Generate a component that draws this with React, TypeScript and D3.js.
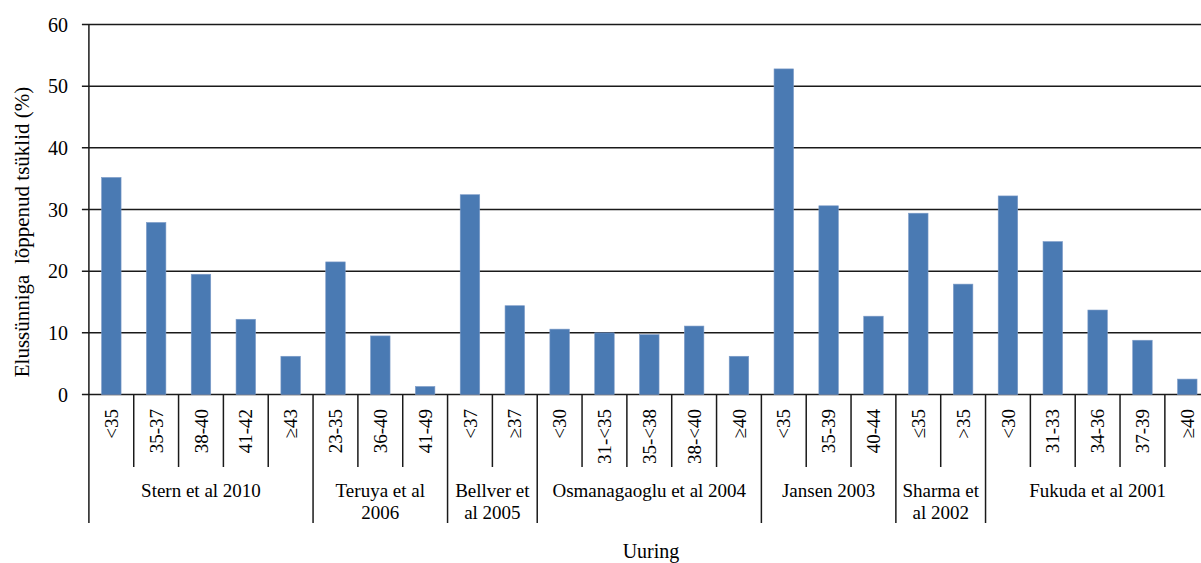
import React from "react";
import * as d3 from "d3";

const categories = [
  "<35", "35-37", "38-40", "41-42", "≥43",
  "23-35", "36-40", "41-49",
  "<37", "≥37",
  "<30", "31-<35", "35-<38", "38-<40", "≥40",
  "<35", "35-39", "40-44",
  "≤35", ">35",
  "<30", "31-33", "34-36", "37-39", "≥40",
];

const values = [
  35.2, 27.9, 19.5, 12.2, 6.2,
  21.5, 9.5, 1.3,
  32.4, 14.4,
  10.6, 10.0, 9.7, 11.1, 6.2,
  52.8, 30.6, 12.7,
  29.4, 17.9,
  32.2, 24.8, 13.7, 8.8, 2.5,
];

const groupNames = [
  ["Stern et al 2010"],
  ["Teruya et al", "2006"],
  ["Bellver et", "al 2005"],
  ["Osmanagaoglu et al 2004"],
  ["Jansen 2003"],
  ["Sharma et", "al 2002"],
  ["Fukuda et al 2001"],
];
const groupSizes = [5, 3, 2, 5, 3, 2, 5];

const yTicks = [0, 10, 20, 30, 40, 50, 60];
const yTitle = "Elussünniga  lõppenud tsüklid (%)";
const xTitle = "Uuring";

const W = 1201;
const H = 563;
const FONT = "'Liberation Serif', 'Times New Roman', serif";

export default function App() {
  const left = 88.9;
  const right = 1209.7;
  const y0 = 394.5;
  const yTop = 24.5;

  const idx = categories.map((_, i) => i);
  const x = d3
    .scaleBand<number>()
    .domain(idx)
    .range([left, right])
    .paddingInner(0.565)
    .paddingOuter(0.2825);
  const step = x.step();
  const y = d3.scaleLinear().domain([0, 60]).range([y0, yTop]);

  const innerSepBottom = 467;
  const groupSepBottom = 523;

  const groupStarts: number[] = [];
  let acc = 0;
  groupSizes.forEach((s) => {
    groupStarts.push(acc);
    acc += s;
  });
  const groupBoundarySet = new Set<number>([...groupStarts, acc]);

  const boundaryX = (k: number) => left + step * k;

  return (
    <div style={{ position: "fixed", left: 0, top: 0 }}>
      <svg width={W} height={H} style={{ display: "block", background: "#fff" }}>
        {yTicks.map((t) => (
          <line
            key={"g" + t}
            x1={left - 7}
            x2={W}
            y1={y(t)}
            y2={y(t)}
            stroke="#1a1a1a"
            strokeWidth={1.5}
          />
        ))}
        {values.map((v, i) => (
          <rect
            key={"b" + i}
            x={x(i)}
            y={y(v)}
            width={x.bandwidth()}
            height={y0 - y(v)}
            fill="#4a7ab3"
            stroke="#7e9cc8"
            strokeWidth={0.6}
          />
        ))}
        <line x1={left} x2={left} y1={yTop} y2={groupSepBottom} stroke="#1a1a1a" strokeWidth={1.5} />
        {d3.range(1, categories.length + 1).map((k) => (
          <line
            key={"s" + k}
            x1={boundaryX(k)}
            x2={boundaryX(k)}
            y1={y0}
            y2={groupBoundarySet.has(k) ? groupSepBottom : innerSepBottom}
            stroke="#1a1a1a"
            strokeWidth={1.5}
          />
        ))}
        {yTicks.map((t) => (
          <text
            key={"yl" + t}
            x={68}
            y={y(t)}
            dy="0.35em"
            textAnchor="end"
            fontFamily={FONT}
            fontSize={20}
            fill="#000"
          >
            {t}
          </text>
        ))}
        {categories.map((c, i) => {
          const cx = (x(i) ?? 0) + x.bandwidth() / 2;
          return (
            <text
              key={"c" + i}
              transform={`translate(${cx},409) rotate(-90)`}
              dy="0.35em"
              textAnchor="end"
              fontFamily={FONT}
              fontSize={19}
              fill="#000"
            >
              {c}
            </text>
          );
        })}
        {groupNames.map((lines, gi) => {
          const s = groupStarts[gi];
          const e = s + groupSizes[gi];
          const cx = (boundaryX(s) + boundaryX(e)) / 2;
          return (
            <text
              key={"gl" + gi}
              x={cx}
              y={497}
              textAnchor="middle"
              fontFamily={FONT}
              fontSize={19}
              fill="#000"
            >
              {lines.map((l, li) => (
                <tspan key={li} x={cx} dy={li === 0 ? 0 : 21.5}>
                  {l}
                </tspan>
              ))}
            </text>
          );
        })}
        <text
          transform="translate(29,232) rotate(-90)"
          textAnchor="middle"
          fontFamily={FONT}
          fontSize={21}
          fill="#000"
          style={{ whiteSpace: "pre" }}
        >
          {yTitle}
        </text>
        <text x={651} y={558} textAnchor="middle" fontFamily={FONT} fontSize={20} fill="#000">
          {xTitle}
        </text>
      </svg>
    </div>
  );
}
